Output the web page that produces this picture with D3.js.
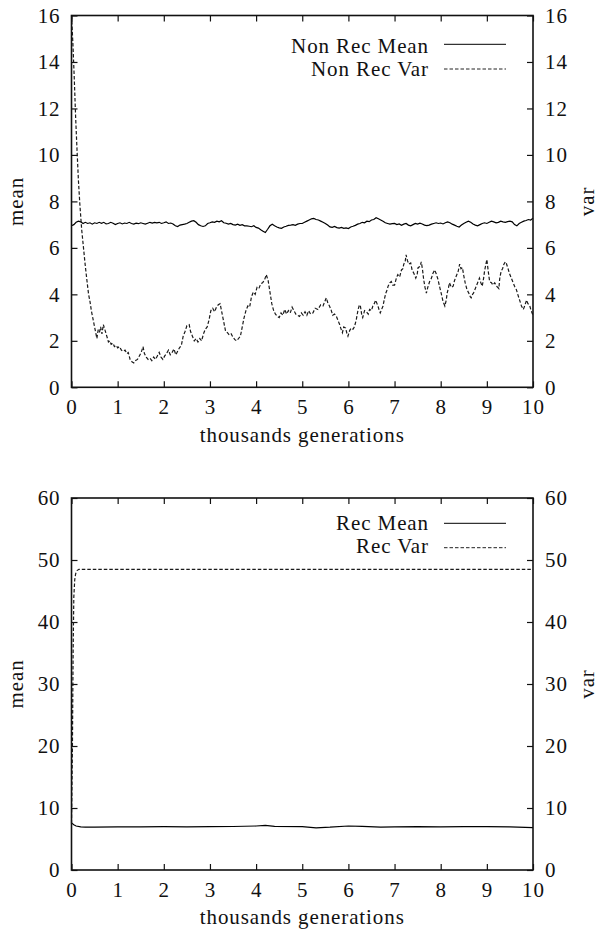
<!DOCTYPE html>
<html>
<head>
<meta charset="utf-8">
<script src="https://cdn.jsdelivr.net/npm/d3@7"></script>
<style>
  html, body { margin: 0; padding: 0; background: #fff; }
</style>
</head>
<body>
<svg id="chart" width="601" height="932" font-family="Liberation Serif" font-size="21"></svg>
<script>
// ---------------- DATA ----------------
const xTickValues = [0, 1, 2, 3, 4, 5, 6, 7, 8, 9, 10];
const topYTicks = [0, 2, 4, 6, 8, 10, 12, 14, 16];
const bottomYTicks = [0, 10, 20, 30, 40, 50, 60];
const xLabel = "thousands generations";
const yLabel = "mean";
const y2Label = "var";
const topSeriesNames = ["Non Rec Mean", "Non Rec Var"];
const bottomSeriesNames = ["Rec Mean", "Rec Var"];

// [thousands generations, value]
const nonRecMean = [
[0.00,6.95],[0.05,7.0],[0.10,7.1],[0.15,7.15],[0.20,7.12],[0.25,7.05],[0.30,7.1],[0.35,7.05],[0.40,7.08],[0.45,7.02],
[0.50,7.08],[0.55,7.05],[0.60,7.1],[0.65,7.06],[0.70,7.1],[0.75,7.03],[0.80,7.05],[0.85,7.1],[0.90,7.06],[0.95,7.0],
[1.00,7.05],[1.05,7.08],[1.10,7.03],[1.15,7.07],[1.20,7.05],[1.25,7.1],[1.30,7.05],[1.35,7.02],[1.40,7.06],[1.45,7.04],
[1.50,7.08],[1.55,7.05],[1.60,7.02],[1.65,7.06],[1.70,7.1],[1.75,7.07],[1.80,7.1],[1.85,7.08],[1.90,7.1],[1.95,7.05],
[2.00,7.08],[2.05,7.12],[2.10,7.05],[2.15,7.07],[2.20,7.03],[2.25,6.95],[2.30,6.92],[2.35,6.98],[2.40,7.0],[2.45,7.02],
[2.50,7.05],[2.55,7.1],[2.60,7.15],[2.65,7.17],[2.70,7.1],[2.75,7.0],[2.80,6.95],[2.85,6.92],[2.90,6.95],[2.95,7.05],
[3.00,7.08],[3.05,7.12],[3.10,7.1],[3.15,7.15],[3.20,7.12],[3.25,7.17],[3.30,7.08],[3.35,7.06],[3.40,7.02],[3.45,7.05],
[3.50,7.0],[3.55,6.98],[3.60,7.02],[3.65,6.97],[3.70,7.0],[3.75,6.95],[3.80,6.95],[3.85,6.93],[3.90,6.91],[3.95,6.95],
[4.00,6.88],[4.05,6.85],[4.10,6.78],[4.15,6.72],[4.20,6.66],[4.25,6.8],[4.30,6.95],[4.35,7.02],[4.40,6.95],[4.45,6.9],
[4.50,6.86],[4.55,6.84],[4.60,6.9],[4.65,6.93],[4.70,6.97],[4.75,6.98],[4.80,7.0],[4.85,6.97],[4.90,7.02],[4.95,7.05],
[5.00,7.05],[5.05,7.1],[5.10,7.15],[5.15,7.2],[5.20,7.25],[5.25,7.27],[5.30,7.22],[5.35,7.2],[5.40,7.15],[5.45,7.1],
[5.50,7.05],[5.55,6.98],[5.60,6.9],[5.65,6.88],[5.70,6.92],[5.75,6.87],[5.80,6.85],[5.85,6.88],[5.90,6.84],[5.95,6.86],
[6.00,6.83],[6.05,6.9],[6.10,6.93],[6.15,6.97],[6.20,7.02],[6.25,7.05],[6.30,7.1],[6.35,7.08],[6.40,7.15],[6.45,7.13],
[6.50,7.2],[6.55,7.22],[6.60,7.3],[6.65,7.25],[6.70,7.2],[6.75,7.15],[6.80,7.08],[6.85,7.05],[6.90,7.02],[6.95,7.04],
[7.00,7.05],[7.05,7.0],[7.10,7.03],[7.15,6.97],[7.20,7.02],[7.25,7.05],[7.30,6.98],[7.35,6.95],[7.40,7.0],[7.45,7.05],
[7.50,7.02],[7.55,7.06],[7.60,7.03],[7.65,6.98],[7.70,6.96],[7.75,6.98],[7.80,7.02],[7.85,7.05],[7.90,7.08],[7.95,7.05],
[8.00,7.07],[8.05,7.03],[8.10,7.08],[8.15,7.12],[8.20,7.08],[8.25,7.02],[8.30,6.98],[8.35,6.93],[8.40,6.9],[8.45,6.98],
[8.50,7.05],[8.55,7.1],[8.60,7.15],[8.65,7.1],[8.70,7.03],[8.75,6.98],[8.80,6.95],[8.85,7.0],[8.90,7.05],[8.95,7.08],
[9.00,7.05],[9.05,7.1],[9.10,7.15],[9.15,7.12],[9.20,7.08],[9.25,7.1],[9.30,7.15],[9.35,7.12],[9.40,7.1],[9.45,7.13],
[9.50,7.15],[9.55,7.12],[9.60,7.0],[9.65,6.95],[9.70,7.05],[9.75,7.1],[9.80,7.15],[9.85,7.18],[9.90,7.22],[9.95,7.2],
[10.0,7.28]
];

const nonRecVar = [
[0.00,16.0],[0.03,14.8],[0.06,13.3],[0.09,11.6],[0.12,10.2],[0.15,8.9],[0.18,7.9],[0.22,6.8],[0.26,6.0],[0.30,5.2],
[0.34,4.5],[0.37,4.0],[0.40,3.7],[0.43,3.3],[0.46,3.0],[0.50,2.6],[0.53,2.3],[0.55,2.1],[0.58,2.5],[0.61,2.4],
[0.63,2.6],[0.66,2.3],[0.69,2.7],[0.72,2.5],[0.75,2.3],[0.78,2.1],[0.80,1.95],[0.83,2.0],[0.86,1.85],[0.90,1.9],
[0.93,1.75],[0.97,1.8],[1.00,1.7],[1.04,1.75],[1.08,1.6],[1.12,1.55],[1.16,1.6],[1.20,1.45],[1.23,1.5],[1.27,1.2],
[1.31,1.1],[1.35,1.05],[1.39,1.15],[1.43,1.2],[1.47,1.35],[1.51,1.5],[1.55,1.75],[1.58,1.45],[1.62,1.3],[1.66,1.2],
[1.70,1.25],[1.74,1.15],[1.78,1.3],[1.82,1.2],[1.86,1.35],[1.90,1.5],[1.94,1.3],[1.98,1.2],[2.02,1.35],[2.06,1.45],
[2.10,1.6],[2.14,1.4],[2.18,1.5],[2.22,1.65],[2.26,1.4],[2.30,1.55],[2.34,1.7],[2.38,1.8],[2.42,2.2],[2.46,2.4],
[2.50,2.65],[2.55,2.7],[2.58,2.4],[2.62,2.2],[2.66,2.0],[2.70,2.1],[2.74,1.95],[2.78,2.1],[2.82,2.0],[2.86,2.3],
[2.90,2.5],[2.94,2.6],[2.98,2.9],[3.02,3.3],[3.06,3.4],[3.10,3.25],[3.14,3.45],[3.18,3.55],[3.22,3.6],[3.26,3.2],
[3.30,2.8],[3.34,2.4],[3.38,2.35],[3.42,2.25],[3.46,2.3],[3.50,2.15],[3.54,2.05],[3.58,2.0],[3.62,2.1],[3.66,2.2],
[3.70,2.6],[3.74,3.0],[3.78,3.3],[3.82,3.5],[3.86,3.45],[3.90,3.9],[3.94,4.1],[3.98,4.0],[4.02,4.3],[4.06,4.25],
[4.10,4.45],[4.14,4.5],[4.18,4.6],[4.22,4.85],[4.26,4.6],[4.30,4.1],[4.34,3.6],[4.38,3.3],[4.42,3.15],[4.46,3.05],
[4.50,3.0],[4.54,3.2],[4.58,3.1],[4.62,3.35],[4.66,3.15],[4.70,3.3],[4.74,3.2],[4.78,3.45],[4.82,3.3],[4.86,3.15],
[4.90,3.1],[4.94,3.05],[4.98,3.2],[5.02,3.1],[5.06,3.25],[5.10,3.1],[5.14,3.3],[5.18,3.15],[5.23,3.2],[5.28,3.4],
[5.34,3.35],[5.40,3.55],[5.45,3.5],[5.50,3.75],[5.52,3.85],[5.56,3.6],[5.59,3.5],[5.63,3.3],[5.66,3.1],[5.70,3.15],
[5.74,3.05],[5.78,2.85],[5.81,2.7],[5.85,2.45],[5.87,2.35],[5.90,2.6],[5.94,2.55],[5.97,2.3],[5.99,2.2],[6.03,2.45],
[6.06,2.55],[6.10,2.5],[6.13,2.6],[6.17,2.9],[6.21,3.35],[6.24,3.55],[6.26,3.5],[6.29,3.1],[6.31,3.0],[6.35,3.3],
[6.39,3.25],[6.43,3.15],[6.46,3.35],[6.50,3.3],[6.53,3.5],[6.56,3.6],[6.59,3.75],[6.62,3.6],[6.64,3.5],[6.67,3.3],
[6.69,3.2],[6.72,3.35],[6.75,3.5],[6.78,3.8],[6.81,4.05],[6.84,4.2],[6.86,4.35],[6.90,4.5],[6.93,4.55],[6.96,4.4],
[7.00,4.4],[7.04,4.7],[7.07,4.85],[7.11,4.75],[7.15,5.05],[7.18,5.1],[7.20,5.3],[7.23,5.4],[7.25,5.7],[7.28,5.45],
[7.31,5.3],[7.35,5.35],[7.38,5.05],[7.42,4.9],[7.46,4.7],[7.49,4.85],[7.51,5.15],[7.55,5.2],[7.58,5.4],[7.61,5.0],
[7.63,4.65],[7.66,4.3],[7.69,4.05],[7.72,4.3],[7.76,4.55],[7.80,4.7],[7.83,4.9],[7.87,5.05],[7.90,4.9],[7.94,4.65],
[7.98,4.3],[8.01,4.05],[8.05,3.7],[8.09,3.5],[8.12,3.75],[8.14,4.05],[8.17,4.3],[8.19,4.5],[8.23,4.3],[8.27,4.35],
[8.30,4.6],[8.34,4.8],[8.38,5.0],[8.41,5.3],[8.44,5.1],[8.47,5.15],[8.50,4.8],[8.53,4.5],[8.57,4.2],[8.61,4.05],
[8.64,3.9],[8.66,3.85],[8.69,4.0],[8.71,4.05],[8.74,4.2],[8.77,4.35],[8.80,4.5],[8.84,4.7],[8.87,4.5],[8.90,4.35],
[8.93,4.7],[8.95,5.0],[8.98,5.3],[9.00,5.5],[9.03,5.0],[9.06,4.55],[9.10,4.5],[9.13,4.4],[9.17,4.5],[9.21,4.35],
[9.26,4.25],[9.28,4.7],[9.31,5.0],[9.34,5.1],[9.37,5.3],[9.40,5.4],[9.42,5.35],[9.46,5.1],[9.49,4.9],[9.53,4.7],
[9.57,4.5],[9.60,4.35],[9.64,4.2],[9.67,4.0],[9.71,3.75],[9.75,3.5],[9.79,3.35],[9.82,3.5],[9.86,3.75],[9.89,3.6],
[9.93,3.5],[9.96,3.3],[10.00,3.1]
];

const recMean = [
[0.00,7.6],[0.05,7.3],[0.10,7.1],[0.20,6.95],[0.30,6.9],[0.50,6.92],[1.00,6.95],[1.50,6.97],[2.00,7.0],[2.50,6.95],
[3.00,7.0],[3.50,7.02],[4.00,7.1],[4.20,7.2],[4.40,7.05],[5.00,7.0],[5.30,6.8],[5.60,6.9],[6.00,7.1],[6.30,7.05],
[6.70,6.9],[7.00,6.95],[7.50,7.0],[8.00,6.95],[8.50,7.0],[9.00,7.0],[9.50,6.95],[10.00,6.85]
];

const recVar = [
[0.00,7.5],[0.02,20],[0.035,35],[0.05,44],[0.07,46.8],[0.09,47.8],[0.12,48.3],[0.16,48.5],[1,48.5],[2,48.5],
[3,48.5],[4,48.5],[5,48.5],[6,48.5],[7,48.5],[8,48.5],[9,48.5],[10,48.5]
];

// ---------------- DRAWING ----------------
const svg = d3.select("#chart");
const left = 71.5, right = 533;

function styleText(sel) {
  sel.attr("font-family", "Liberation Serif").attr("font-size", 21)
     .attr("letter-spacing", "0.9").attr("fill", "#111");
}

const panels = [
  { top: 15.5, bottom: 387.3, yMax: 16, yTicks: topYTicks, mean: nonRecMean, vari: nonRecVar,
    names: topSeriesNames, legendBase: [52.7, 76], legendLine: [44.3, 69] },
  { top: 498, bottom: 870, yMax: 60, yTicks: bottomYTicks, mean: recMean, vari: recVar,
    names: bottomSeriesNames, legendBase: [530, 553.3], legendLine: [523.3, 547.7] }
];

const x = d3.scaleLinear().domain([0, 10]).range([left, right]);

panels.forEach(p => {
  const y = d3.scaleLinear().domain([0, p.yMax]).range([p.bottom, p.top]);
  const g = svg.append("g");

  const axB = g.append("g").attr("transform", `translate(0,${p.bottom})`)
    .call(d3.axisBottom(x).tickValues(xTickValues).tickSize(-6).tickPadding(12).tickFormat(d3.format("d")));
  const axT = g.append("g").attr("transform", `translate(0,${p.top})`)
    .call(d3.axisTop(x).tickValues(xTickValues).tickSize(-6).tickFormat(""));
  const axL = g.append("g").attr("transform", `translate(${left},0)`)
    .call(d3.axisLeft(y).tickValues(p.yTicks).tickSize(-6).tickPadding(11).tickFormat(d3.format("d")));
  const axR = g.append("g").attr("transform", `translate(${right},0)`)
    .call(d3.axisRight(y).tickValues(p.yTicks).tickSize(-6).tickPadding(12).tickFormat(d3.format("d")));
  [axB, axT, axL, axR].forEach(a => {
    a.attr("font-family", "Liberation Serif").attr("font-size", 21);
    a.select(".domain").remove();
    a.selectAll(".tick line").attr("stroke", "#111").attr("stroke-width", 1.2);
    styleText(a.selectAll("text"));
  });
  axB.selectAll(".tick text").attr("dy", null).attr("y", 26.5);

  const line = d3.line().x(d => x(d[0])).y(d => y(d[1]));
  g.append("path").datum(p.mean).attr("d", line)
    .attr("fill", "none").attr("stroke", "#000").attr("stroke-width", 1.2);
  g.append("path").datum(p.vari).attr("d", line)
    .attr("fill", "none").attr("stroke", "#1a1a1a").attr("stroke-width", 1.2)
    .attr("stroke-dasharray", "3.5,2");

  g.append("rect").attr("x", left).attr("y", p.top)
    .attr("width", right - left).attr("height", p.bottom - p.top)
    .attr("fill", "none").attr("stroke", "#111").attr("stroke-width", 1.6);

  p.names.forEach((name, i) => {
    styleText(g.append("text").attr("x", 429).attr("y", p.legendBase[i])
      .attr("text-anchor", "end").text(name));
    g.append("line").attr("x1", 444).attr("x2", 506)
      .attr("y1", p.legendLine[i]).attr("y2", p.legendLine[i])
      .attr("stroke", i === 0 ? "#000" : "#222").attr("stroke-width", 1)
      .attr("stroke-dasharray", i === 0 ? null : "3.5,2");
  });

  const cy = (p.top + p.bottom) / 2;
  styleText(g.append("text").attr("transform", `translate(23,${cy}) rotate(-90)`)
    .attr("text-anchor", "middle").text(yLabel));
  styleText(g.append("text").attr("transform", `translate(594,${cy}) rotate(-90)`)
    .attr("text-anchor", "middle").text(y2Label));
  styleText(g.append("text").attr("x", (left + right) / 2).attr("y", p.bottom + 54.3)
    .attr("text-anchor", "middle").text(xLabel));
});
</script>
</body>
</html>
